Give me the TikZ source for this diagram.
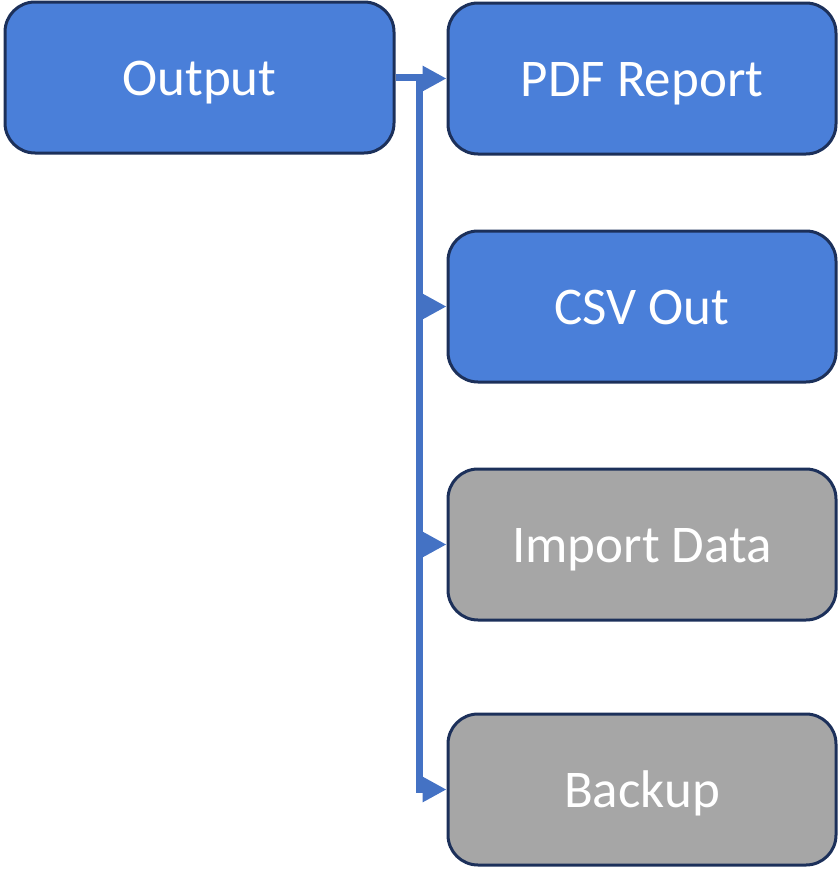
\documentclass[tikz,border=0pt]{standalone}
\usepackage{fontspec}
\setmainfont{Carlito}
\usetikzlibrary{arrows.meta}
\definecolor{boxblue}{RGB}{74,127,217}
\definecolor{boxgray}{RGB}{166,166,166}
\definecolor{boxedge}{RGB}{28,48,90}
\definecolor{linkblue}{RGB}{68,114,196}
\tikzset{
  card/.style={draw=boxedge, line width=3pt, rounded corners=30pt,
    minimum width=388pt, minimum height=151pt, inner sep=0pt,
    text height=37pt, text depth=2pt,
    text=white, font=\fontsize{53}{60}\selectfont},
  active/.style={card, fill=boxblue},
  idle/.style={card, fill=boxgray},
  link/.style={draw=linkblue, line width=7pt,
    -{Triangle[length=24pt,width=24pt]}}
}
\begin{document}
\begin{tikzpicture}[x=1pt,y=-1pt]
  \useasboundingbox (0,0) rectangle (839,870);
  % source block
  \node[active, minimum width=389pt] (out) at (199.5,77.5) {Output};
  % target blocks
  \node[active] (pdf)    at (642,78.5)  {PDF Report};
  \node[active] (csv)    at (642,306.5) {CSV Out};
  \node[idle]   (import) at (642,544.5) {Import Data};
  \node[idle]   (backup) at (642,789.5) {Backup};
  % elbow connectors from the source to each target
  \foreach \t in {backup,import,csv,pdf}
    \draw[link] (out.east) -- ++(24,0) |- (\t.west);
\end{tikzpicture}
\end{document}
